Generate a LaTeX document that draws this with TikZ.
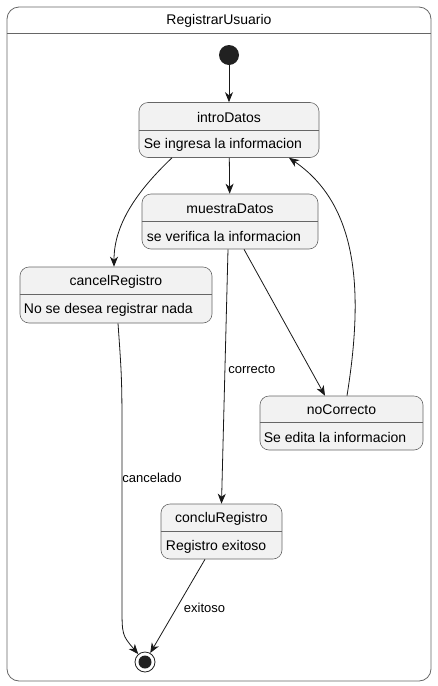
\documentclass[tikz,border=0pt]{standalone}
\usepackage{fontspec}
\setmainfont{Liberation Sans}
\usetikzlibrary{positioning}
\usetikzlibrary{arrows.meta}

\begin{document}
\begin{tikzpicture}[x=1pt,y=-1pt,
linea/.style={draw=black!90,line width=0.8pt,-{Stealth[length=10pt,width=8pt,inset=3pt]}},
marco/.style={draw=black!60,line width=0.8pt,rounded corners=12pt,fill=white,inner sep=0pt},
estado/.style={draw=black!60,fill=black!5,line width=0.6pt,rounded corners=9pt,inner sep=0pt,minimum height=55pt},
nombre/.style={font=\fontsize{14}{16}\selectfont,inner sep=0pt},
descr/.style={font=\fontsize{14}{16}\selectfont,inner sep=0pt,anchor=west},
etiq/.style={font=\fontsize{13}{15}\selectfont,anchor=west,inner sep=0pt},
inicio/.style={circle,fill=black!87,minimum size=20pt,inner sep=0pt},
fin/.style={circle,draw=black!87,line width=0.8pt,minimum size=20pt,inner sep=0pt}
]
\useasboundingbox (0,0) rectangle (438,686);
\node[marco,minimum width=424pt,minimum height=674pt](marco) at (219,344){};
\draw[black!60,line width=0.8pt] ([yshift=-27pt]marco.north west) -- ([yshift=-27pt]marco.north east);
\node[nombre] at ([yshift=-14pt]marco.north){RegistrarUsuario};
%--
\node[inicio](ini) at (229,55){};
%--
\node[estado,minimum width=180pt](intro) at (229,130){};
\draw[black!60,line width=0.6pt] ([yshift=-28pt]intro.north west) -- ([yshift=-28pt]intro.north east);
\node[nombre] at ([yshift=-15pt]intro.north){introDatos};
\node[descr] at ([xshift=5pt,yshift=-43pt]intro.north west){Se ingresa la informacion};
\draw [linea] (ini) -- (intro);
%--
\node[estado,minimum width=176pt](muestra) at (230,221.5){};
\draw[black!60,line width=0.6pt] ([yshift=-28pt]muestra.north west) -- ([yshift=-28pt]muestra.north east);
\node[nombre] at ([yshift=-15pt]muestra.north){muestraDatos};
\node[descr] at ([xshift=5pt,yshift=-43pt]muestra.north west){se verifica la informacion};
\draw [linea] (intro) -- (muestra);
%--
\node[estado,minimum width=192pt,minimum height=56pt](cancel) at (116,295){};
\draw[black!60,line width=0.6pt] ([yshift=-28pt]cancel.north west) -- ([yshift=-28pt]cancel.north east);
\node[nombre] at ([yshift=-15pt]cancel.north){cancelRegistro};
\node[descr] at ([xshift=4pt,yshift=-43pt]cancel.north west){No se desea registrar nada};
\draw [linea] ([xshift=-57pt]intro.south) .. controls (136,192) and (114,225) .. ([xshift=-2pt]cancel.north);
%--
\node[estado,minimum width=163pt,minimum height=54pt](nocorr) at (341.5,423){};
\draw[black!60,line width=0.6pt] ([yshift=-27pt]nocorr.north west) -- ([yshift=-27pt]nocorr.north east);
\node[nombre] at ([yshift=-14pt]nocorr.north){noCorrecto};
\node[descr] at ([xshift=4pt,yshift=-42pt]nocorr.north west){Se edita la informacion};
\draw [linea] ([xshift=14pt]muestra.south) -- ([xshift=-16.5pt]nocorr.north);
\draw [linea] ([xshift=5.5pt]nocorr.north) .. controls (364,290) and (358,205) .. ([xshift=60pt]intro.south);
%--
\node[estado,minimum width=121pt](conclu) at (221.5,531.5){};
\draw[black!60,line width=0.6pt] ([yshift=-28pt]conclu.north west) -- ([yshift=-28pt]conclu.north east);
\node[nombre] at ([yshift=-15pt]conclu.north){concluRegistro};
\node[descr] at ([xshift=5pt,yshift=-43pt]conclu.north west){Registro exitoso};
\draw [linea] ([xshift=-2pt]muestra.south) -- node[etiq,pos=0.47,xshift=3pt]{correcto} (conclu.north);
%--
\node[fin](fin) at (145,662){};
\fill[black!87] (fin.center) circle (6.5pt);
\draw [linea] ([xshift=2pt]cancel.south) .. controls (122,380) .. (122,450) -- node[etiq,pos=0.18]{cancelado} (122,605) .. controls (122,635) .. (fin);
\draw [linea] ([xshift=-16.5pt]conclu.south) -- node[etiq,pos=0.52,xshift=7pt]{exitoso} (fin);
\end{tikzpicture}
\end{document}
